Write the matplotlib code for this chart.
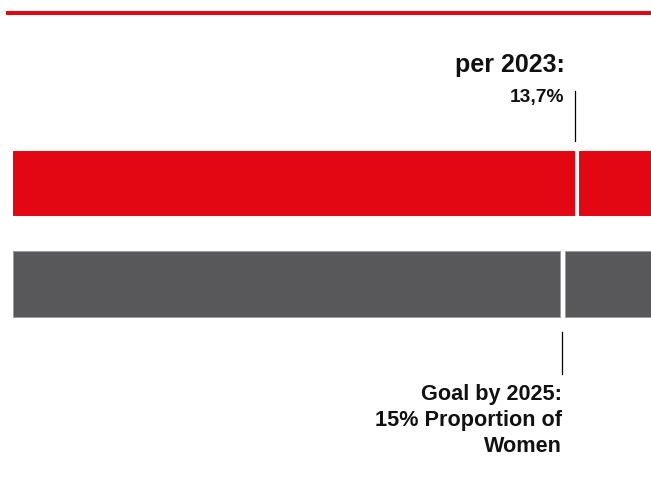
import matplotlib.pyplot as plt
from matplotlib.lines import Line2D

# data (split marker position in % of the bar length)
bar_names = ["current", "goal"]
split_pos = [88.3, 86.1]
bar_colors = ["#e30613", "#58585a"]
edge_colors = ["#e30613", "#9c9c9c"]
head_labels = ["per 2023:", "Goal by 2025:\n15% Proportion of\nWomen"]
value_labels = ["13,7%", ""]

W, H = 651, 478
GAP = 0.85  # white gap at the marker, in bar-% units

plt.rcParams["font.family"] = ["Liberation Sans", "DejaVu Sans"]

fig = plt.figure(figsize=(W / 100, H / 100), dpi=100)
# axes spans the bar area horizontally; y in pixel rows (top = 0)
ax = fig.add_axes([13 / W, 0, 638 / W, 1])
ax.set_xlim(0, 100)
ax.set_ylim(H, 0)
ax.axis("off")

# red rule at the top
fig.add_artist(Line2D([8 / W, 1], [1 - 12.5 / H, 1 - 12.5 / H],
                      color="#e30613", lw=2.9, transform=fig.transFigure))

bar_y = [182.5, 284]
bar_h = [64, 66]
for i, name in enumerate(bar_names):
    s = split_pos[i]
    ax.barh(bar_y[i], s - GAP / 2, left=0, height=bar_h[i],
            color=bar_colors[i], edgecolor=edge_colors[i], linewidth=0.7)
    ax.barh(bar_y[i], 100 - s - GAP / 2, left=s + GAP / 2, height=bar_h[i],
            color=bar_colors[i], edgecolor=edge_colors[i], linewidth=0.7)

# current value: marker above the red bar
s0 = split_pos[0]
ax.plot([s0 - 0.2, s0 - 0.2], [91, 141], color="black", lw=0.9)
ax.annotate(head_labels[0], xy=(s0, 71.5), xytext=(-8.5, 0),
            textcoords="offset points", ha="right", va="baseline",
            fontsize=18, fontweight="bold", color="#111111")
ax.annotate(value_labels[0], xy=(s0, 102), xytext=(-8.5, 0),
            textcoords="offset points", ha="right", va="baseline",
            fontsize=13.8, fontweight="bold", color="#111111")

# goal: marker below the gray bar, label lines right-aligned to it
s1 = split_pos[1]
ax.plot([s1, s1], [332, 374], color="black", lw=0.9)
for k, line in enumerate(head_labels[1].split("\n")):
    ax.text(s1, 400 + 26 * k, line, ha="right", va="baseline",
            fontsize=15.6, fontweight="bold", color="#111111")

fig.savefig("out.png", dpi=100)
